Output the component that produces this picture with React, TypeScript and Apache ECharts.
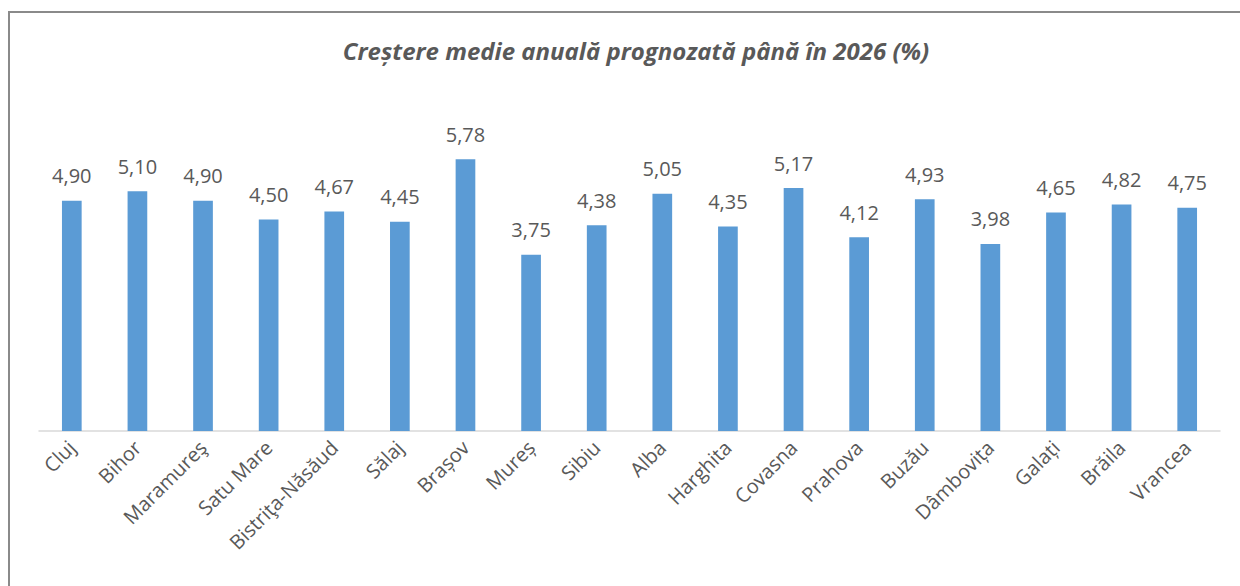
import React, { useEffect, useRef } from "react";
import * as echarts from "echarts";

const categories = [
  "Cluj", "Bihor", "Maramureş", "Satu Mare", "Bistriţa-Năsăud", "Sălaj", "Brașov", "Mureș", "Sibiu",
  "Alba", "Harghita", "Covasna", "Prahova", "Buzău", "Dâmbovița", "Galați", "Brăila", "Vrancea",
];
const values = [4.9, 5.1, 4.9, 4.5, 4.67, 4.45, 5.78, 3.75, 4.38, 5.05, 4.35, 5.17, 4.12, 4.93, 3.98, 4.65, 4.82, 4.75];
const titleText = "Creștere medie anuală prognozată până în 2026 (%)";

export default function App() {
  const ref = useRef<HTMLDivElement>(null);
  useEffect(() => {
    document.body.style.margin = "0";
    const chart = echarts.init(ref.current!, null, { renderer: "svg" });
    chart.setOption({
      animation: false,
      backgroundColor: "#ffffff",
      title: {
        text: titleText,
        left: 631,
        textAlign: "center",
        top: 33,
        textStyle: {
          fontFamily: "Open Sans",
          fontStyle: "italic",
          fontWeight: "bold",
          fontSize: 24,
          color: "#595959",
        },
      },
      graphic: [
        {
          type: "rect",
          shape: { x: 9, y: 12, width: 1260, height: 620 },
          style: { fill: "none", stroke: "#8a8a8a", lineWidth: 2 },
          silent: true,
        },
      ],
      grid: { left: 39, right: 20, top: 149, bottom: 155, containLabel: false },
      xAxis: {
        type: "category",
        data: categories,
        axisLine: { show: true, lineStyle: { color: "#d9d9d9", width: 1.5 } },
        axisTick: { show: false },
        axisLabel: {
          rotate: 45,
          interval: 0,
          margin: 13,
          fontFamily: "Open Sans",
          fontSize: 20,
          color: "#595959",
        },
      },
      yAxis: {
        type: "value",
        min: 0,
        max: 6,
        show: false,
        splitLine: { show: false },
      },
      series: [
        {
          type: "bar",
          data: values,
          barWidth: "30%",
          itemStyle: { color: "#5b9bd5" },
          label: {
            show: true,
            position: "top",
            distance: 15,
            fontFamily: "Open Sans",
            fontSize: 20,
            color: "#595959",
            formatter: (p: any) => p.value.toFixed(2).replace(".", ","),
          },
        },
      ],
    });
    return () => chart.dispose();
  }, []);
  return <div ref={ref} style={{ width: 1240, height: 586 }} />;
}
